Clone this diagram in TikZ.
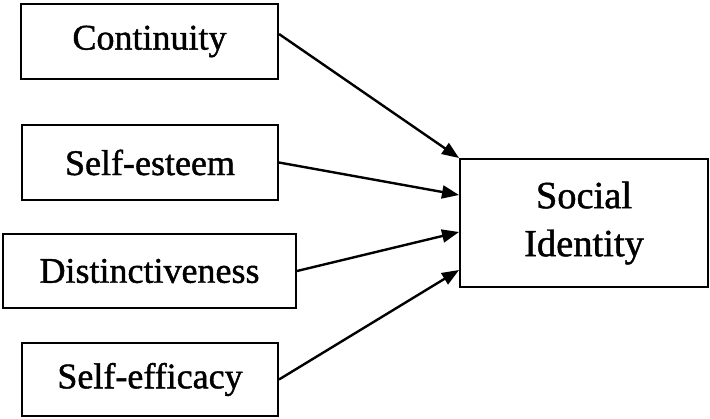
\documentclass[tikz,border=0pt]{standalone}
\usepackage{fontspec}
\setmainfont{Liberation Serif}[BoldFont=Liberation Serif, BoldFeatures={FakeBold=1.2}]
\usetikzlibrary{arrows.meta}
\begin{document}
\begin{tikzpicture}[x=1pt,y=-1pt,
  factor/.style={draw, line width=2pt, rectangle, inner sep=0pt, align=center,
    font=\fontsize{36}{42}\selectfont\bfseries},
  link/.style={line width=2.4pt, -{Triangle[length=17pt,width=13pt]}}]
  \useasboundingbox (0,0) rectangle (710,418);
  % source constructs
  \node[factor, minimum width=257pt, minimum height=75pt] (cont) at (149.5,41.5) {Continuity};
  \node[factor, minimum width=256pt, minimum height=75pt] (est) at (150,162.5) {Self-esteem};
  \node[factor, minimum width=293pt, minimum height=74pt] (dist) at (149.5,271) {Distinctiveness};
  \node[factor, minimum width=256pt, minimum height=73pt] (eff) at (150,379.5) {Self-efficacy};
  % outcome
  \node[factor, minimum width=248pt, minimum height=128pt,
    font=\fontsize{38.5}{48}\selectfont\bfseries] (si) at (584,223) {Social\\Identity};
  % influences
  \draw[link] ([yshift=7.5pt]cont.east) -- (si.north west);
  \draw[link] (est.east) -- ([yshift=28pt]si.west);
  \draw[link] (dist.east) -- ([yshift=-9pt]si.west);
  \draw[link] (eff.east) -- ([yshift=-47pt]si.west);
\end{tikzpicture}
\end{document}
